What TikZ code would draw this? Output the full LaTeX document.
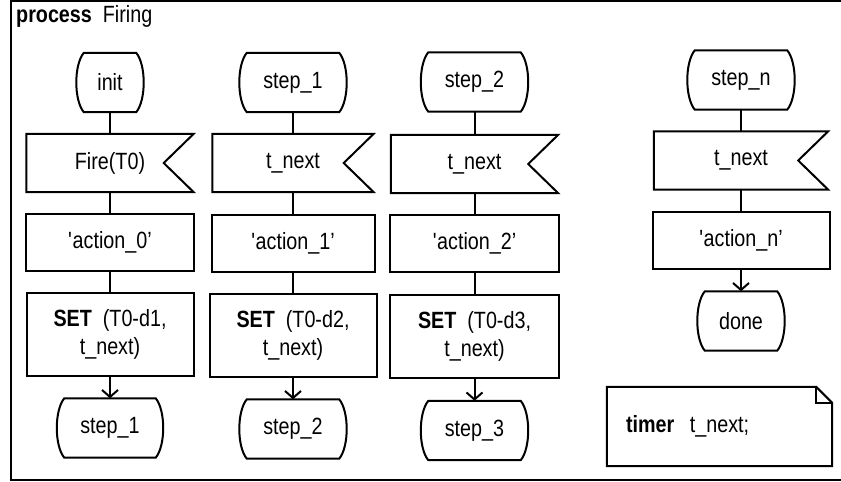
\documentclass[tikz,border=0pt]{standalone}
\usepackage{fontspec}
\setmainfont{Liberation Sans}[FakeStretch=0.84]
\usepackage{tikz}
\usetikzlibrary{calc,arrows.meta}

\tikzset{
  sdl/.style={line width=2pt},
  statebox/.style={minimum height=59pt, inner sep=0pt},
  inputbox/.style={minimum height=58pt, inner sep=0pt},
  taskbox/.style={draw, sdl, minimum height=57pt, inner sep=0pt},
  setbox/.style={draw, sdl, minimum height=83pt, inner sep=0pt, align=center},
  notebox/.style={minimum height=79pt, text width=187pt, inner xsep=19pt, align=left},
  flow/.style={sdl, -{Straight Barb[length=7pt,width=16pt]}}
}
% outlines of the SDL symbols round a named node
\newcommand{\statepath}[1]{\draw[sdl] (#1.north west) -- (#1.north east) .. controls +(10,12) and +(10,-12) .. (#1.south east) -- (#1.south west) .. controls +(-10,-12) and +(-10,12) .. (#1.north west) -- cycle;}
\newcommand{\inputpath}[1]{\draw[sdl] (#1.north west) -- (#1.north east) -- ($(#1.east)+(-30,0)$) -- (#1.south east) -- (#1.south west) -- cycle;}
\newcommand{\notepath}[1]{\draw[sdl] (#1.north west) -- ($(#1.north east)+(-16,0)$) -- ($(#1.north east)+(0,16)$) -- (#1.south east) -- (#1.south west) -- cycle;
  \draw[sdl] ($(#1.north east)+(-16,0)$) -- ($(#1.north east)+(-16,16)$) -- ($(#1.north east)+(0,16)$);}

\begin{document}
\begin{tikzpicture}[x=1pt,y=-1pt,every node/.style={font=\fontsize{23.5}{28}\selectfont}]
\useasboundingbox (0,0) rectangle (841,482);
%%Frame
\draw[line width=2pt] (850,1.2) -- (10.5,1.2) -- (10.5,479.5) -- (850,479.5);
\node[anchor=base west, inner sep=0pt] (title) at (16,22) {\textbf{process}\ \ Firing};

%%init
\node[statebox, minimum width=52pt] (init) at (110,82.5) {init};
\node[inputbox, minimum width=167pt] (fire) at (110,163) {Fire(T0)};
\node[taskbox, minimum width=168pt] (act0) at (110,242) {\textquotesingle action\_0'};
\node[setbox, minimum width=167pt] (set0) at (110,334.5) {\textbf{SET}\ \ (T0-d1,\\t\_next)};
\node[statebox, minimum width=91pt] (go1) at (110,428) {step\_1};

\draw[sdl] (init.south) -- (fire.north);
\draw[sdl] (fire.south) -- (act0.north);
\draw[sdl] (act0.south) -- (set0.north);
\draw[flow] (set0.south) -- (go1.north);
\statepath{init}
\inputpath{fire}
\statepath{go1}

%%step_1
\node[statebox, minimum width=92pt] (step1) at (293,82.5) {step\_1};
\node[inputbox, minimum width=161pt] (next1) at (293,163) {t\_next};
\node[taskbox, minimum width=163pt] (act1) at (293,243) {\textquotesingle action\_1'};
\node[setbox, minimum width=167pt] (set1) at (293,335.5) {\textbf{SET}\ \ (T0-d2,\\t\_next)};
\node[statebox, minimum width=92pt] (go2) at (293,429) {step\_2};

\draw[sdl] (step1.south) -- (next1.north);
\draw[sdl] (next1.south) -- (act1.north);
\draw[sdl] (act1.south) -- (set1.north);
\draw[flow] (set1.south) -- (go2.north);
\statepath{step1}
\inputpath{next1}
\statepath{go2}

%%step_2
\node[statebox, minimum width=92pt] (step2) at (474.5,82) {step\_2};
\node[inputbox, minimum width=167pt] (next2) at (474.5,164) {t\_next};
\node[taskbox, minimum width=169pt] (act2) at (474.5,243) {\textquotesingle action\_2'};
\node[setbox, minimum width=169pt] (set2) at (474.5,336.5) {\textbf{SET}\ \ (T0-d3,\\t\_next)};
\node[statebox, minimum width=92pt] (go3) at (474.5,430.5) {step\_3};

\draw[sdl] (step2.south) -- (next2.north);
\draw[sdl] (next2.south) -- (act2.north);
\draw[sdl] (act2.south) -- (set2.north);
\draw[flow] (set2.south) -- (go3.north);
\statepath{step2}
\inputpath{next2}
\statepath{go3}

%%step_n
\node[statebox, minimum width=92pt] (stepn) at (741,80) {step\_n};
\node[inputbox, minimum width=174pt] (nextn) at (741,160.5) {t\_next};
\node[taskbox, minimum width=177pt] (actn) at (741,240) {\textquotesingle action\_n'};
\node[statebox, minimum width=72pt] (done) at (741,321) {done};

\draw[sdl] (stepn.south) -- (nextn.north);
\draw[sdl] (nextn.south) -- (actn.north);
\draw[flow] (actn.south) -- (done.north);
\statepath{stepn}
\inputpath{nextn}
\statepath{done}

%%timer
\node[notebox] (timer) at (719.5,426.5) {\textbf{timer}\ \ t\_next;};
\notepath{timer}

\end{tikzpicture}
\end{document}
